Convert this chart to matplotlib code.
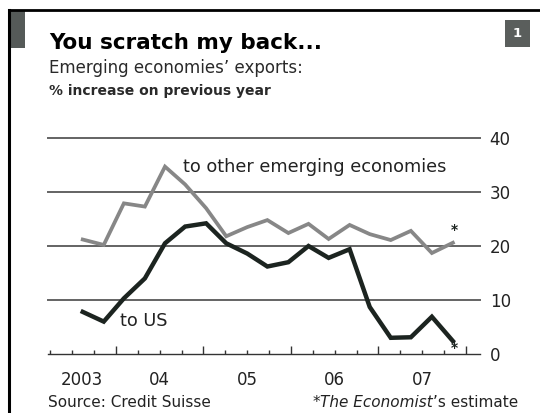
import matplotlib
matplotlib.use("Agg")
import matplotlib.pyplot as plt
from matplotlib.patches import Rectangle
from matplotlib.lines import Line2D

##############################################################################
# Data: export growth, % on a year earlier

dates = [2003.62, 2003.86, 2004.09, 2004.33, 2004.56, 2004.79, 2005.03,
         2005.26, 2005.50, 2005.73, 2005.97, 2006.20, 2006.43, 2006.67,
         2006.90, 2007.14, 2007.37, 2007.61, 2007.85]
to_emerging = [21.2, 20.2, 27.9, 27.3, 34.7, 31.4, 27.0, 21.8, 23.5, 24.8,
               22.4, 24.1, 21.3, 23.9, 22.2, 21.1, 22.8, 18.7, 20.6]
to_us = [7.8, 6.0, 10.3, 14.0, 20.5, 23.6, 24.2, 20.5, 18.6, 16.2,
         17.0, 20.0, 17.8, 19.4, 8.7, 3.0, 3.1, 6.9, 2.4]

year_labels = ["2003", "04", "05", "06", "07"]
yticks = [0, 10, 20, 30, 40]

##############################################################################
# Plot:

W, H = 540, 413
FONT = "DejaVu Sans"
DARK = "#1c2420"
GREY = "#878787"
GRID = "#636363"
TEXT = "#222222"


def fx(px):
    return px / W


def fy(py):
    return 1 - py / H


fig = plt.figure(figsize=(W / 100, H / 100), dpi=100)
fig.patch.set_facecolor("white")

# Frame: top rule, left rule, tab block and chart number
fig.add_artist(Line2D([fx(8.5), 1], [fy(10), fy(10)], color="black", lw=2.0))
fig.add_artist(Line2D([fx(9), fx(9)], [fy(10), 0], color="black", lw=2.2))
fig.add_artist(Rectangle((fx(10), fy(48)), fx(25) - fx(10), fy(11) - fy(48),
                         color="#555a58", lw=0))
fig.add_artist(Rectangle((fx(505), fy(47)), fx(530) - fx(505), fy(20) - fy(47),
                         color="#5a5e5c", lw=0))
fig.text(fx(517.5), fy(33.5), "1", color="white", fontsize=9.5,
         fontweight="bold", family=FONT, ha="center", va="center")

# Titles
fig.text(fx(49), fy(49), "You scratch my back...", fontsize=15.5,
         fontweight="bold", family=FONT, color="black", va="baseline")
fig.text(fx(49), fy(73), "Emerging economies\u2019 exports:", fontsize=12,
         family=FONT, color="#2a2a2a", va="baseline")
fig.text(fx(49), fy(95), "% increase on previous year", fontsize=10,
         fontweight="bold", family=FONT, color="#2a2a2a", va="baseline")

# Chart axes
ax = fig.add_axes([fx(48), fy(354), fx(480) - fx(48), fy(138) - fy(354)])
ax.set_xlim(2003.223, 2008.16)
ax.set_ylim(0, 40)
for s in ["left", "top", "right"]:
    ax.spines[s].set_visible(False)
ax.spines["bottom"].set_color("#333333")
ax.spines["bottom"].set_linewidth(1.0)

for v in yticks[1:]:
    ax.axhline(v, color=GRID, lw=1.4, zorder=1, clip_on=False)

ax.yaxis.tick_right()
ax.set_yticks(yticks)
ax.set_yticklabels([str(v) for v in yticks], family=FONT, fontsize=12,
                   color=TEXT)
ax.tick_params(axis="y", length=0, pad=7)

ax.set_xticks([2004, 2005, 2006, 2007, 2008])
ax.set_xticks([2003.25 + 0.25 * i for i in range(20)], minor=True)
ax.tick_params(axis="x", which="major", direction="in", length=5.5, width=1,
               color="#333333", labelbottom=False)
ax.tick_params(axis="x", which="minor", direction="in", length=3, width=1,
               color="#333333")

# Year labels centred in each year span
label_x = [(2003.223 + 2004) / 2, 2004.5, 2005.5, 2006.5, 2007.5]
for xpos, lab in zip(label_x, year_labels):
    ax.text(xpos, -4.9, lab, ha="center", va="center", fontsize=12,
            family=FONT, color=TEXT)

# Series
ax.plot(dates, to_emerging, color=GREY, lw=2.7, solid_joinstyle="miter",
        zorder=3, clip_on=False)
ax.plot(dates, to_us, color=DARK, lw=3.2, solid_joinstyle="miter",
        zorder=4, clip_on=False)

ax.text(2004.766, 34.6, "to other emerging economies", fontsize=12.8,
        family=FONT, color=TEXT, va="center")
ax.text(2004.046, 6.1, "to US", fontsize=12.8, family=FONT, color=TEXT,
        va="center")

# Estimate markers
ax.text(dates[-1] + 0.02, to_emerging[-1] + 2.4, "*", fontsize=10,
        color=DARK, ha="center", va="center", fontweight="bold")
ax.text(dates[-1] + 0.02, to_us[-1] - 1.2, "*", fontsize=10,
        color=DARK, ha="center", va="center", fontweight="bold")

# Footer
fig.text(fx(48), fy(407), "Source: Credit Suisse", fontsize=11, family=FONT,
         color=TEXT, va="baseline")

renderer = fig.canvas.get_renderer()
right = fx(518)
parts = [("\u2019s estimate", "normal"), ("The Economist", "italic"), ("*", "normal")]
for txt, style in parts:
    t = fig.text(right, fy(407), txt, fontsize=11, family=FONT, style=style,
                 color=TEXT, va="baseline", ha="right")
    bb = t.get_window_extent(renderer)
    right = bb.x0 / fig.bbox.width

fig.savefig("out.png", dpi=100)
